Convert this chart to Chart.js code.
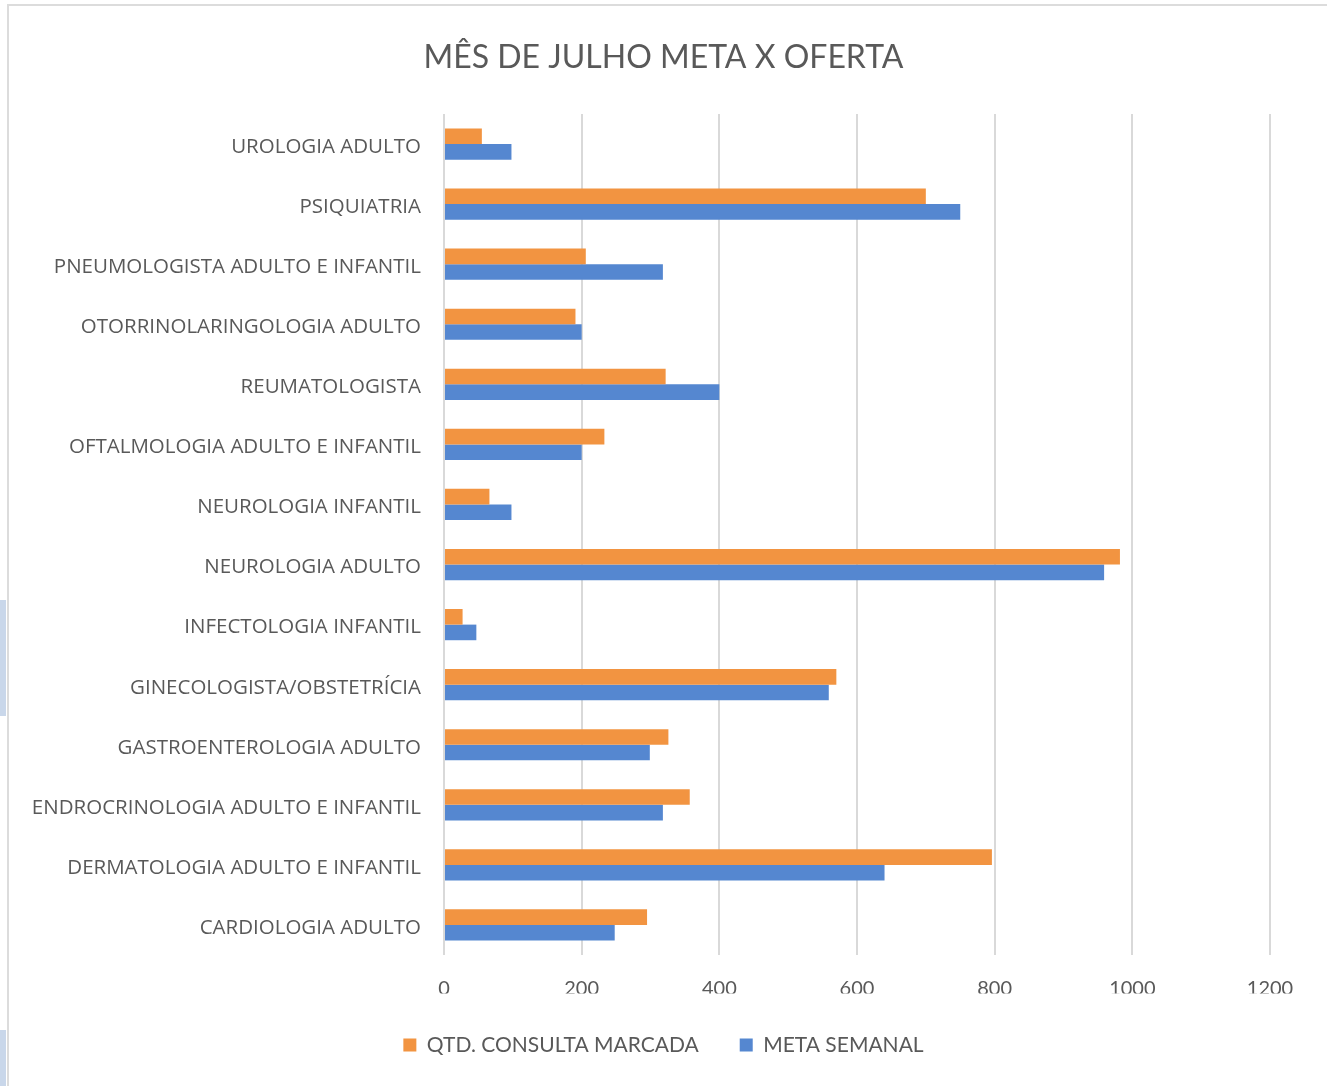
<!DOCTYPE html>
<html><head><meta charset="utf-8">
<script src="https://cdn.jsdelivr.net/npm/chart.js@4/dist/chart.umd.min.js"></script>
<style>
html,body{margin:0;padding:0;background:#fff;overflow:hidden;}
#wrap{position:absolute;left:0;top:0;width:1327px;height:1086px;}
#frame{position:absolute;left:7px;top:4px;width:1330px;height:1100px;border:2px solid #dcdcdc;box-sizing:border-box;pointer-events:none;}
.stripe{position:absolute;left:0;width:6px;background:#c9d7ea;}
canvas{position:absolute;left:0;top:0;}
</style></head>
<body>
<div id="wrap"><canvas id="c" width="1327" height="1086"></canvas><div id="frame"></div>
<div class="stripe" style="top:600px;height:116px"></div>
<div class="stripe" style="top:1030px;height:56px"></div></div>
<script>
const categories = ["UROLOGIA ADULTO","PSIQUIATRIA","PNEUMOLOGISTA ADULTO E INFANTIL","OTORRINOLARINGOLOGIA ADULTO","REUMATOLOGISTA","OFTALMOLOGIA ADULTO E INFANTIL","NEUROLOGIA INFANTIL","NEUROLOGIA ADULTO","INFECTOLOGIA INFANTIL","GINECOLOGISTA/OBSTETRÍCIA","GASTROENTEROLOGIA ADULTO","ENDROCRINOLOGIA ADULTO E INFANTIL","DERMATOLOGIA ADULTO E INFANTIL","CARDIOLOGIA ADULTO"];
const consultaMarcada = [55,700,206,191,322,233,66,982,27,570,326,357,796,295];
const metaSemanal = [98,750,318,200,400,200,98,959,47,559,299,318,640,248];
const seriesNames = ["QTD. CONSULTA MARCADA","META SEMANAL"];
const xTicks = [0,200,400,600,800,1000,1200];
const titleText = "MÊS DE JULHO META X OFERTA";

const textColor = "#595959";
const narrow = "Lato,'Open Sans',sans-serif";
const wide = "'Open Sans','Noto Sans',sans-serif";

new Chart(document.getElementById('c'), {
  type: 'bar',
  data: {
    labels: categories,
    datasets: [
      {label: seriesNames[0], data: consultaMarcada, backgroundColor: '#F29441', borderWidth: 0,
       categoryPercentage: 0.52, barPercentage: 1.0},
      {label: seriesNames[1], data: metaSemanal, backgroundColor: '#5587D0', borderWidth: 0,
       categoryPercentage: 0.52, barPercentage: 1.0}
    ]
  },
  options: {
    responsive: false,
    animation: false,
    indexAxis: 'y',
    layout: {padding: {left: 0, right: 0, top: 0, bottom: 20.5}},
    plugins: {
      title: {display: true, text: titleText, color: textColor,
        font: {family: narrow, size: 32, weight: 'normal', lineHeight: 1.2},
        padding: {top: 38, bottom: 37.6}},
      legend: {position: 'bottom',
        labels: {color: textColor, boxWidth: 13, boxHeight: 13, padding: 41,
          font: {family: narrow, size: 21}}},
      tooltip: {enabled: false}
    },
    scales: {
      x: {
        min: 0, max: 1200,
        afterBuildTicks: s => { s.ticks = xTicks.map(v => ({value: v})); },
        grid: {color: '#d9d9d9', lineWidth: 2, drawTicks: false},
        border: {display: false},
        ticks: {color: textColor, padding: 22, font: {family: narrow, size: 20},
          callback: v => String(v)},
        afterFit: s => { s.height = 38.5; }
      },
      y: {
        grid: {display: false, drawTicks: false},
        border: {display: false},
        ticks: {color: textColor, padding: 23, labelOffset: 3, font: {family: wide, size: 20.5}},
        afterFit: s => { s.width = 444; }
      },
      yRight: {
        type: 'category', position: 'right', display: true,
        grid: {display: false, drawTicks: false},
        border: {display: false},
        ticks: {display: false},
        afterFit: s => { s.width = 57; }
      }
    }
  }
});
</script>
</body></html>
